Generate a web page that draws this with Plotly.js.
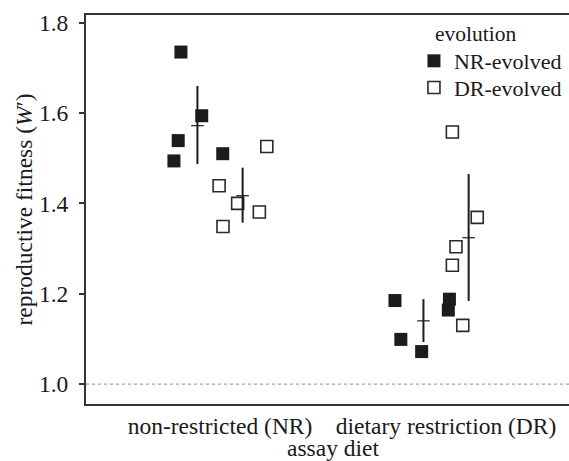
<!DOCTYPE html>
<html>
<head>
<meta charset="utf-8">
<script src="https://cdn.plot.ly/plotly-3.0.1.min.js"></script>
<style>html,body{margin:0;padding:0;background:#fff;}#chart{width:569px;height:461px;}</style>
</head>
<body>
<div id="chart"></div>
<script>
// categories (assay diet)
const categories = ["non-restricted (NR)", "dietary restriction (DR)"];
const catIndex = [1, 2];

// NR-evolved replicate populations
const nrEvolvedDiet = [1, 1, 1, 1, 1, 2, 2, 2, 2, 2];
const nrEvolvedJitter = [-0.173, -0.081, -0.185, -0.204, 0.012, -0.226, 0.015, 0.010, -0.200, -0.108];
const nrEvolvedW = [1.735, 1.594, 1.539, 1.494, 1.510, 1.185, 1.188, 1.164, 1.099, 1.072];

// DR-evolved replicate populations
const drEvolvedDiet = [1, 1, 1, 1, 1, 2, 2, 2, 2, 2];
const drEvolvedJitter = [0.207, -0.004, 0.078, 0.174, 0.013, 0.028, 0.138, 0.044, 0.028, 0.074];
const drEvolvedW = [1.526, 1.439, 1.400, 1.381, 1.349, 1.558, 1.369, 1.304, 1.263, 1.130];

// group means and interval limits
const nrMean = [1.572, 1.140];
const nrUpper = [1.660, 1.188];
const nrLower = [1.487, 1.093];
const drMean = [1.417, 1.324];
const drUpper = [1.479, 1.465];
const drLower = [1.3575, 1.184];

const dodge = 0.1;

const nrX = nrEvolvedDiet.map((d, i) => d + nrEvolvedJitter[i]);
const drX = drEvolvedDiet.map((d, i) => d + drEvolvedJitter[i]);

const traces = [
  {
    type: 'scatter', mode: 'markers', name: 'NR-evolved', legend: 'legend',
    x: nrX, y: nrEvolvedW,
    marker: {symbol: 'square', size: 13, color: '#1c1c1c', line: {width: 0}},
    cliponaxis: false
  },
  {
    type: 'scatter', mode: 'markers', name: 'DR-evolved', legend: 'legend2',
    x: drX, y: drEvolvedW,
    marker: {symbol: 'square-open', size: 12, color: '#2a2a2a', line: {width: 1.6, color: '#2a2a2a'}},
    cliponaxis: false
  },
  {
    type: 'scatter', mode: 'markers', showlegend: false, hoverinfo: 'skip',
    x: catIndex.map(c => c - dodge), y: nrMean,
    marker: {symbol: 'line-ew', size: 9, color: '#1c1c1c', line: {width: 1.2, color: '#1c1c1c'}},
    error_y: {type: 'data', symmetric: false,
      array: nrUpper.map((u, i) => u - nrMean[i]),
      arrayminus: nrMean.map((m, i) => m - nrLower[i]),
      width: 0, thickness: 2, color: '#1c1c1c'}
  },
  {
    type: 'scatter', mode: 'markers', showlegend: false, hoverinfo: 'skip',
    x: catIndex.map(c => c + dodge), y: drMean,
    marker: {symbol: 'line-ew', size: 9, color: '#1c1c1c', line: {width: 1.2, color: '#1c1c1c'}},
    error_y: {type: 'data', symmetric: false,
      array: drUpper.map((u, i) => u - drMean[i]),
      arrayminus: drMean.map((m, i) => m - drLower[i]),
      width: 0, thickness: 2, color: '#1c1c1c'}
  }
];

const FAM = 'Liberation Serif';
const f = (s) => ({family: FAM, size: s, color: '#1a1a1a'});

const legendBase = {
  xanchor: 'left', yanchor: 'middle',
  bgcolor: 'rgba(0,0,0,0)', borderwidth: 0,
  font: f(22), itemwidth: 30, tracegroupgap: 0
};

const layout = {
  width: 569, height: 461,
  margin: {l: 86, r: 0, t: 15, b: 57},
  paper_bgcolor: '#ffffff', plot_bgcolor: '#ffffff',
  font: f(23.5),
  showlegend: true,
  legend: Object.assign({x: 0.679, y: 0.8817}, legendBase),
  legend2: Object.assign({x: 0.679, y: 0.8131}, legendBase),
  xaxis: {
    range: [0.407, 2.544],
    tickvals: catIndex, ticktext: categories,
    showgrid: false, zeroline: false,
    showline: true, mirror: true, linecolor: '#333333', linewidth: 2,
    ticks: '', tickfont: f(23.5),
    fixedrange: true
  },
  yaxis: {
    range: [0.956, 1.817],
    tickvals: [1.0, 1.2, 1.4, 1.6, 1.8],
    ticktext: ['1.0', '1.2', '1.4', '1.6', '1.8'],
    showgrid: false, zeroline: false,
    showline: true, mirror: false, linecolor: '#333333', linewidth: 2,
    ticks: 'outside', ticklen: 5, tickwidth: 2, tickcolor: '#333333',
    ticklabelstandoff: 6,
    tickfont: f(23.5),
    title: {text: 'reproductive fitness (<i>W</i>′)', font: f(23.5), standoff: 0},
    fixedrange: true
  },
  annotations: [
    {text: 'evolution', xref: 'paper', yref: 'paper', x: 0.718, y: 0.9512,
     xanchor: 'left', yanchor: 'middle', showarrow: false, font: f(21.5)},
    {text: 'assay diet', xref: 'paper', yref: 'paper', x: 0.512, y: -0.1131,
     xanchor: 'center', yanchor: 'middle', showarrow: false, font: f(23.5)}
  ],
  shapes: [
    {type: 'line', xref: 'paper', yref: 'y', x0: 0, x1: 1, y0: 1.0, y1: 1.0,
     line: {color: '#a0a0a0', width: 1.3, dash: 'dot'}, layer: 'below'}
  ]
};

Plotly.newPlot('chart', traces, layout, {displayModeBar: false, staticPlot: true});
</script>
</body>
</html>
